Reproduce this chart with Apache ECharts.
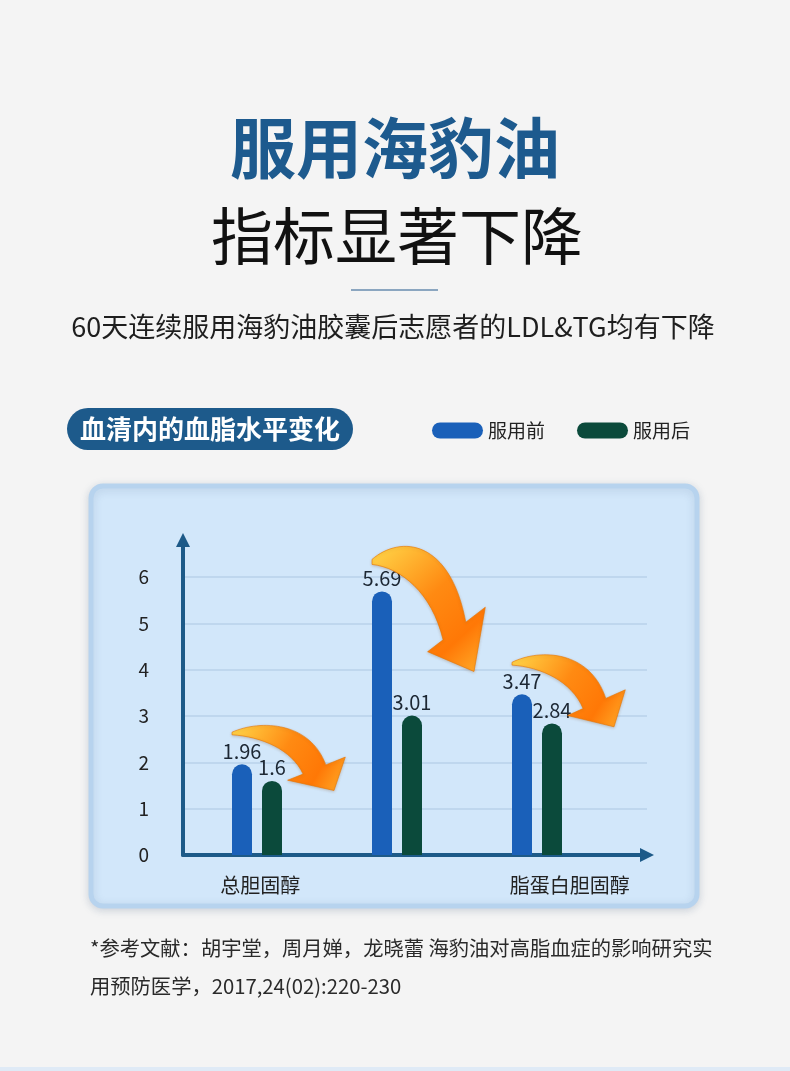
<!DOCTYPE html>
<html>
<head>
<meta charset="utf-8">
<script src="https://cdn.jsdelivr.net/npm/echarts@6/dist/echarts.min.js"></script>
<style>
html,body{margin:0;padding:0;background:#f4f4f4;}
#c{width:790px;height:1071px;}
</style>
</head>
<body>
<div id="c"></div>
<script>
// ---- data ----
const categories = ['总胆固醇', '', '脂蛋白胆固醇'];
const seriesNames = ['服用前', '服用后'];
const before = [1.96, 5.69, 3.47];
const after = [1.6, 3.01, 2.84];
const yMin = 0, yMax = 6.8, yInterval = 1;

const CJK = '"Noto Sans CJK SC", "Noto Sans", sans-serif';
const blue = '#1a60b9';
const green = '#0b4a3b';
const axisColor = '#1d5a88';

const chart = echarts.init(document.getElementById('c'), null, {renderer: 'canvas'});

function arrowPath(sx, sy, tx, ty) {
  const kx = (tx - sx) / 99, ky = (ty - sy) / 68;
  const P = (x, y) => (sx + x * kx).toFixed(1) + ' ' + (sy + y * ky).toFixed(1);
  return 'M ' + P(0, 0) +
    ' C ' + P(28, -15) + ', ' + P(76, -12) + ', ' + P(91, 38.1) +
    ' L ' + P(110, 29) + ' L ' + P(99, 68) + ' L ' + P(54, 56) + ' L ' + P(69, 48.8) +
    ' C ' + P(58, 20) + ', ' + P(28, 5) + ', ' + P(0, 3) + ' Z';
}

const option = {
  backgroundColor: '#f4f4f4',
  animation: false,
  textStyle: {fontFamily: CJK},
  graphic: [
    {type: 'rect', z: -20, shape: {x: 0, y: 1067, width: 790, height: 4}, style: {fill: '#dfeaf6'}},
    {type: 'text', x: 395, y: 148, style: {text: '服用海豹油', fill: '#1d5a8e', font: 'bold 66px ' + CJK, align: 'center', verticalAlign: 'middle'}},
    {type: 'text', x: 397, y: 236, style: {text: '指标显著下降', fill: '#111111', font: '62px ' + CJK, align: 'center', verticalAlign: 'middle'}},
    {type: 'rect', shape: {x: 351, y: 289, width: 87, height: 2}, style: {fill: '#8ba6c0'}},
    {type: 'text', x: 393, y: 327, style: {text: '60天连续服用海豹油胶囊后志愿者的LDL&TG均有下降', fill: '#1e1e1e', font: '27px ' + CJK, align: 'center', verticalAlign: 'middle'}},
    {type: 'rect', shape: {x: 67, y: 408, width: 286, height: 42, r: 21}, style: {fill: '#1d5a8b'}},
    {type: 'text', x: 210, y: 429, style: {text: '血清内的血脂水平变化', fill: '#ffffff', font: 'bold 26px ' + CJK, align: 'center', verticalAlign: 'middle'}},
    {type: 'rect', z: -10, shape: {x: 91, y: 486, width: 606, height: 420, r: 12},
      style: {fill: '#d2e7fa', stroke: '#b7d3ee', lineWidth: 5, shadowBlur: 8, shadowColor: 'rgba(60,90,130,0.18)', shadowOffsetY: 2}},
    {type: 'text', x: 90, y: 948, style: {text: '*参考文献：胡宇堂，周月婵，龙晓蕾 海豹油对高脂血症的影响研究实', fill: '#2a2a2a', font: '20.3px ' + CJK, verticalAlign: 'middle'}},
    {type: 'text', x: 90, y: 986, style: {text: '用预防医学，2017,24(02):220-230', fill: '#2a2a2a', font: '20.3px ' + CJK, verticalAlign: 'middle'}}
  ],
  legend: {
    data: seriesNames,
    left: 432, top: 421,
    itemWidth: 51, itemHeight: 16, itemGap: 32,
    icon: 'path://M8,0 L43,0 A8,8 0 0 1 43,16 L8,16 A8,8 0 0 1 8,0 Z',
    textStyle: {fontSize: 19, color: '#222', fontFamily: CJK},
    padding: 0
  },
  grid: [
    {left: 183, right: 143, top: 540, bottom: 216},
    {left: 187, right: 183, top: 540, bottom: 216}
  ],
  xAxis: [
    {
      gridIndex: 0, type: 'category', data: categories,
      axisLine: {lineStyle: {color: axisColor, width: 4}, symbol: ['none', 'triangle'], symbolSize: [14, 14]},
      axisTick: {show: false},
      axisLabel: {fontSize: 20, color: '#222', margin: 20, fontFamily: CJK}
    },
    {gridIndex: 1, type: 'category', data: categories, show: false}
  ],
  yAxis: [
    {
      gridIndex: 0, type: 'value', min: yMin, max: yMax, interval: yInterval,
      axisLine: {show: true, lineStyle: {color: axisColor, width: 4}, symbol: ['none', 'triangle'], symbolSize: [14, 14]},
      axisTick: {show: false},
      axisLabel: {fontSize: 19, color: '#222', margin: 34, showMaxLabel: false, fontFamily: CJK,
        formatter: v => (Number.isInteger(v) ? String(v) : '')},
      splitLine: {show: true, showMinLine: false, showMaxLine: false, lineStyle: {color: '#b9d2ea', width: 1.5}}
    },
    {gridIndex: 1, type: 'value', min: yMin, max: yMax, interval: yInterval, show: false, splitLine: {show: false}}
  ],
  series: [
    {
      name: seriesNames[0], type: 'bar', xAxisIndex: 1, yAxisIndex: 1,
      data: before, barWidth: 20, barGap: '50%',
      itemStyle: {color: blue, borderRadius: [10, 10, 0, 0]},
      label: {show: true, position: 'top', distance: 3, fontSize: 20, color: '#1c2733', fontFamily: CJK}
    },
    {
      name: seriesNames[1], type: 'bar', xAxisIndex: 1, yAxisIndex: 1,
      data: after, barWidth: 20,
      itemStyle: {color: green, borderRadius: [10, 10, 0, 0]},
      label: {show: true, position: 'top', distance: 3, fontSize: 20, color: '#1c2733', fontFamily: CJK}
    },
    {
      type: 'custom', xAxisIndex: 1, yAxisIndex: 1, z: 5, silent: true,
      data: categories.map((c, i) => [i, before[i], after[i]]),
      renderItem: function (params, api) {
        const i = api.value(0);
        const pb = api.coord([i, api.value(1)]);
        const pa = api.coord([i, api.value(2)]);
        const cx = pb[0];
        const sx = cx - 25, sy = pb[1] - 32;
        const tx = cx + 15 + 62, ty = (pb[1] + pa[1]) / 2 + 18;
        return {
          type: 'path',
          shape: {pathData: arrowPath(sx, sy, tx, ty)},
          style: {
            fill: new echarts.graphic.LinearGradient(0, 0, 1, 1, [
              {offset: 0, color: '#ffd84a'},
              {offset: 0.45, color: '#ff8a12'},
              {offset: 0.75, color: '#ff7806'},
              {offset: 1, color: '#ffb02c'}
            ]),
            stroke: '#e87300', lineWidth: 0.6,
            shadowBlur: 3, shadowColor: 'rgba(120,60,0,0.25)', shadowOffsetY: 1
          }
        };
      }
    }
  ]
};
chart.setOption(option);
</script>
</body>
</html>
